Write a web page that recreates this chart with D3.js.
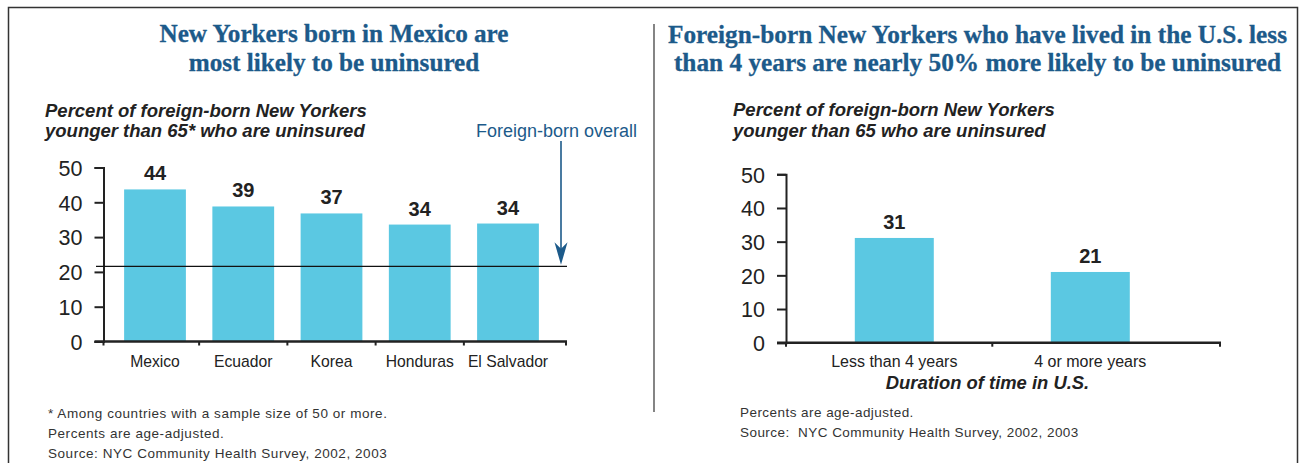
<!DOCTYPE html>
<html>
<head>
<meta charset="utf-8">
<script src="https://cdn.jsdelivr.net/npm/d3@7"></script>
<style>
  html, body { margin: 0; padding: 0; background: #fff; }
  svg { display: block; }
</style>
</head>
<body>
<svg id="chart" width="1302" height="463"></svg>
<script>
// ---------- data ----------
const leftCategories = ["Mexico", "Ecuador", "Korea", "Honduras", "El Salvador"];
const leftValues = [43.7, 38.8, 36.8, 33.6, 33.9];
const leftValueLabels = ["44", "39", "37", "34", "34"];
const foreignBornOverall = 21.6;

const rightCategories = ["Less than 4 years", "4 or more years"];
const rightValues = [31.1, 21.0];
const rightValueLabels = ["31", "21"];

const yTickValues = [0, 10, 20, 30, 40, 50];

const leftTitle = ["New Yorkers born in Mexico are", "most likely to be uninsured"];
const rightTitle = ["Foreign-born New Yorkers who have lived in the U.S. less",
                    "than 4 years are nearly 50% more likely to be uninsured"];
const leftSubtitle = ["Percent of foreign-born New Yorkers", "younger than 65* who are uninsured"];
const rightSubtitle = ["Percent of foreign-born New Yorkers", "younger than 65 who are uninsured"];
const leftNotes = ["* Among countries with a sample size of 50 or more.",
                   "Percents are age-adjusted.",
                   "Source: NYC Community Health Survey, 2002, 2003"];
const rightNotes = ["Percents are age-adjusted.",
                    "Source:\u00a0 NYC Community Health Survey, 2002, 2003"];

// ---------- style ----------
const BAR = "#5bc8e2";
const BLUE = "#1c5a8a";
const INK = "#222";
const SANS = "'Liberation Sans', Arial, sans-serif";
const SERIF = "'Liberation Serif', 'Times New Roman', serif";

const svg = d3.select("#chart");

// frame
svg.append("path")
  .attr("d", "M8.5,470 V7.5 H1297.5 V470")
  .attr("fill", "none").attr("stroke", "#333").attr("stroke-width", 1.5);
svg.append("line")
  .attr("x1", 654).attr("x2", 654).attr("y1", 24).attr("y2", 412)
  .attr("stroke", "#333").attr("stroke-width", 1.2);

function multiline(lines, x, y0, dy, opts) {
  const t = svg.append("text")
    .attr("x", x).attr("y", y0)
    .attr("font-family", opts.family)
    .attr("font-size", opts.size)
    .attr("font-weight", opts.weight || "normal")
    .attr("font-style", opts.style || "normal")
    .attr("fill", opts.fill || INK)
    .attr("text-anchor", opts.anchor || "start");
  if (opts.spacing) t.attr("letter-spacing", opts.spacing);
  if (opts.stroke) t.attr("stroke", opts.fill).attr("stroke-width", opts.stroke);
  lines.forEach((l, i) => {
    t.append("tspan").attr("x", x).attr("y", y0 + i * dy).text(l);
  });
  return t;
}

// titles
multiline(leftTitle, 334, 42, 28.5, {family: SERIF, size: "25.2px", weight: "bold", fill: BLUE, anchor: "middle", stroke: 0.3});
multiline(rightTitle, 977.5, 43, 28, {family: SERIF, size: "25.3px", weight: "bold", fill: BLUE, anchor: "middle", stroke: 0.3});

// subtitles
multiline(leftSubtitle, 45, 116.5, 20.5, {family: SANS, size: "18.5px", weight: "bold", style: "italic"});
multiline(rightSubtitle, 733, 116, 20.5, {family: SANS, size: "18.5px", weight: "bold", style: "italic"});

// notes
multiline(leftNotes, 48, 417.5, 20, {family: SANS, size: "13.5px", fill: "#333", spacing: "0.55px"});
multiline(rightNotes, 740, 417.3, 19.5, {family: SANS, size: "13.5px", fill: "#333", spacing: "0.45px"});

// ---------- panel builder ----------
function panel(cfg) {
  const g = svg.append("g");
  const x = d3.scaleBand().domain(cfg.categories).range(cfg.xRange)
    .paddingInner(cfg.padInner).paddingOuter(cfg.padOuter);
  const y = d3.scaleLinear().domain([0, 50]).range(cfg.yRange);

  // bars
  g.selectAll("rect.bar").data(cfg.values).enter().append("rect")
    .attr("class", "bar")
    .attr("x", (d, i) => x(cfg.categories[i]))
    .attr("width", x.bandwidth())
    .attr("y", d => y(d))
    .attr("height", d => y(0) - y(d))
    .attr("fill", BAR);

  // value labels
  g.selectAll("text.val").data(cfg.values).enter().append("text")
    .attr("class", "val")
    .attr("x", (d, i) => x(cfg.categories[i]) + x.bandwidth() / 2)
    .attr("y", d => y(d) - cfg.labelGap)
    .attr("text-anchor", "middle")
    .attr("font-family", SANS).attr("font-weight", "bold")
    .attr("font-size", "20px").attr("fill", INK)
    .text((d, i) => cfg.valueLabels[i]);

  // y axis
  const ya = g.append("g")
    .attr("transform", `translate(${cfg.axisX},0)`)
    .call(d3.axisLeft(y).tickValues(yTickValues).tickSize(9).tickSizeOuter(9).tickPadding(12));
  ya.selectAll("path, line").attr("stroke", INK).attr("stroke-width", 2);
  ya.selectAll("text").attr("font-family", SANS).attr("font-size", "21.5px").attr("fill", INK)
    .attr("dy", "0.36em");

  // x axis line
  const y0 = y(0);
  g.append("line")
    .attr("x1", cfg.axisX - 9).attr("x2", cfg.xAxisEnd)
    .attr("y1", y0).attr("y2", y0)
    .attr("stroke", INK).attr("stroke-width", 2.5);

  // boundary ticks
  const bounds = [cfg.axisX];
  for (let i = 1; i < cfg.categories.length; i++) {
    bounds.push((x(cfg.categories[i - 1]) + x.bandwidth() + x(cfg.categories[i])) / 2);
  }
  bounds.push(cfg.xAxisEnd - 1);
  g.selectAll("line.bt").data(bounds).enter().append("line")
    .attr("x1", d => d).attr("x2", d => d)
    .attr("y1", y0).attr("y2", y0 + 4)
    .attr("stroke", INK).attr("stroke-width", 2);

  // category labels
  g.selectAll("text.cat").data(cfg.categories).enter().append("text")
    .attr("x", d => x(d) + x.bandwidth() / 2)
    .attr("y", cfg.catY)
    .attr("text-anchor", "middle")
    .attr("font-family", SANS).attr("font-size", cfg.catSize).attr("fill", INK)
    .text(d => d);

  return {x, y, g};
}

// left panel
const L = panel({
  categories: leftCategories, values: leftValues, valueLabels: leftValueLabels,
  xRange: [110, 553], padInner: 0.3, padOuter: 0.16,
  yRange: [341.5, 167.5], axisX: 103.5, xAxisEnd: 567,
  labelGap: 9, catY: 367, catSize: "15.7px"
});

// reference line: foreign-born overall
L.g.append("line")
  .attr("x1", 96).attr("x2", 567)
  .attr("y1", L.y(foreignBornOverall)).attr("y2", L.y(foreignBornOverall))
  .attr("stroke", "#111").attr("stroke-width", 1.2);

// annotation arrow
const ax = 561;
const tipY = L.y(foreignBornOverall) - 1.5;
L.g.append("line")
  .attr("x1", ax).attr("x2", ax).attr("y1", 141).attr("y2", tipY - 12)
  .attr("stroke", BLUE).attr("stroke-width", 1.6);
L.g.append("path")
  .attr("d", `M${ax},${tipY} L${ax - 6.5},${tipY - 22.5} L${ax},${tipY - 16} L${ax + 6.5},${tipY - 22.5} Z`)
  .attr("fill", BLUE);
svg.append("text")
  .attr("x", 637).attr("y", 136.7).attr("text-anchor", "end")
  .attr("font-family", SANS).attr("font-size", "18px").attr("fill", BLUE)
  .text("Foreign-born overall");

// right panel
const R = panel({
  categories: rightCategories, values: rightValues, valueLabels: rightValueLabels,
  xRange: [796, 1188.6], padInner: 0.597, padOuter: 0.3,
  yRange: [342.7, 174.3], axisX: 786, xAxisEnd: 1221,
  labelGap: 8.5, catY: 366.7, catSize: "16px"
});

svg.append("text")
  .attr("x", 987.5).attr("y", 389.3).attr("text-anchor", "middle")
  .attr("font-family", SANS).attr("font-size", "18.4px")
  .attr("font-weight", "bold").attr("font-style", "italic").attr("fill", INK)
  .text("Duration of time in U.S.");
</script>
</body>
</html>
